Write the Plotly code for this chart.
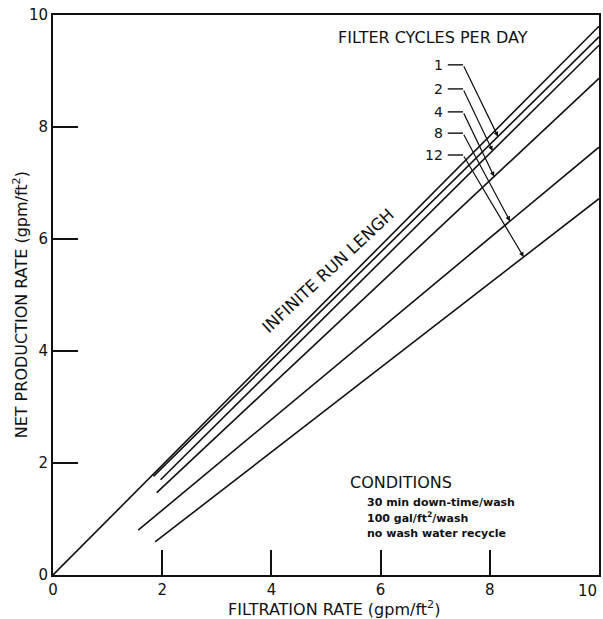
import numpy as np
import plotly.graph_objects as go

# ---- data ----
cycles = ["1", "2", "4", "8", "12"]
x_start = [1.84, 1.97, 1.90, 1.56, 1.87]
y_start = [1.76, 1.70, 1.47, 0.80, 0.59]
x_end = [10.0, 10.0, 10.0, 10.0, 10.0]
y_end = [9.61, 9.46, 8.87, 7.64, 6.72]

inf_x = [0.0, 10.0]
inf_y = [0.0, 9.80]

label_y = [9.11, 8.68, 8.27, 7.89, 7.50]
head_x = [8.15, 8.05, 8.08, 8.37, 8.62]

x_ticks = [0, 2, 4, 6, 8]
y_ticks = [0, 2, 4, 6, 8, 10]

conditions = ["30 min down-time/wash", "100 gal/ft<sup>2</sup>/wash", "no wash water recycle"]

FONT = "DejaVu Sans"
INK = "#111111"

fig = go.Figure()
fig.add_trace(go.Scatter(x=inf_x, y=inf_y, mode="lines",
                         line=dict(color=INK, width=1.6), showlegend=False))
for i in range(len(cycles)):
    fig.add_trace(go.Scatter(x=[x_start[i], x_end[i]], y=[y_start[i], y_end[i]],
                             mode="lines", line=dict(color=INK, width=1.6),
                             showlegend=False, name=cycles[i]))

annotations = []
shapes = []
lab_x = 7.18
dash_x0, dash_x1 = 7.23, 7.51
for i, c in enumerate(cycles):
    annotations.append(dict(x=lab_x, y=label_y[i], xref="x", yref="y", text=c,
                            showarrow=False, xanchor="right", yanchor="middle",
                            font=dict(family=FONT, size=14, color=INK)))
    shapes.append(dict(type="line", xref="x", yref="y", x0=dash_x0, y0=label_y[i],
                       x1=dash_x1, y1=label_y[i], line=dict(color=INK, width=1.4)))
    hy = float(np.interp(head_x[i], [x_start[i], x_end[i]], [y_start[i], y_end[i]]))
    annotations.append(dict(x=head_x[i], y=hy, xref="x", yref="y", ax=dash_x1, ay=label_y[i],
                            axref="x", ayref="y", text="", showarrow=True,
                            arrowhead=2, arrowsize=0.8, arrowwidth=1.2, arrowcolor=INK,
                            standoff=0, startstandoff=0))

annotations.append(dict(x=6.96, y=9.59, xref="x", yref="y", text="FILTER CYCLES PER DAY",
                        showarrow=False, font=dict(family=FONT, size=16, color=INK)))
annotations.append(dict(x=5.05, y=5.43, xref="x", yref="y", text="INFINITE RUN LENGH",
                        showarrow=False, textangle=-43,
                        font=dict(family=FONT, size=16.5, color=INK)))
annotations.append(dict(x=5.40, y=1.66, xref="x", yref="y", text="CONDITIONS",
                        showarrow=False, xanchor="left",
                        font=dict(family=FONT, size=16, color=INK)))
cond_y = [1.29, 1.02, 0.75]
for t, yy in zip(conditions, cond_y):
    annotations.append(dict(x=5.71, y=yy, xref="x", yref="y", text=t,
                            showarrow=False, xanchor="left",
                            font=dict(family=FONT, size=11, color=INK, weight="bold")))

# x tick label at the frame edge and axis titles
annotations.append(dict(x=10, y=0, xref="x", yref="paper", text="10", showarrow=False,
                        xanchor="right", yanchor="top", yshift=-5,
                        font=dict(family=FONT, size=15, color=INK)))
annotations.append(dict(x=0.515, y=-0.060, xref="paper", yref="paper",
                        text="FILTRATION RATE (gpm/ft<sup>2</sup>)", showarrow=False,
                        xanchor="center", yanchor="middle",
                        font=dict(family=FONT, size=16, color=INK)))
annotations.append(dict(x=-0.060, y=0.482, xref="paper", yref="paper",
                        text="NET PRODUCTION RATE (gpm/ft<sup>2</sup>)", showarrow=False,
                        textangle=-90, xanchor="center", yanchor="middle",
                        font=dict(family=FONT, size=16, color=INK)))

fig.update_layout(
    width=603, height=619,
    margin=dict(l=53, r=4, t=15, b=44),
    paper_bgcolor="white", plot_bgcolor="white",
    shapes=shapes, annotations=annotations,
    showlegend=False,
)
fig.update_xaxes(range=[0, 10], tickvals=x_ticks, ticktext=[str(v) for v in x_ticks],
                 ticks="inside", ticklen=25, tickwidth=1.5, tickcolor=INK,
                 showline=True, linewidth=2, linecolor=INK, mirror=True,
                 showgrid=False, zeroline=False, automargin=False,
                 ticklabeloverflow="allow",
                 tickfont=dict(family=FONT, size=15, color=INK))
fig.update_yaxes(range=[0, 10], tickvals=y_ticks, ticktext=[str(v) for v in y_ticks],
                 ticks="inside", ticklen=25, tickwidth=1.5, tickcolor=INK,
                 showline=True, linewidth=2, linecolor=INK, mirror=True,
                 showgrid=False, zeroline=False, automargin=False,
                 ticklabeloverflow="allow",
                 tickfont=dict(family=FONT, size=15, color=INK))

fig.write_html(
    "out.html",
    config={"displayModeBar": False},
    post_script="document.body.style.margin='0';document.body.style.overflow='hidden';",
)
